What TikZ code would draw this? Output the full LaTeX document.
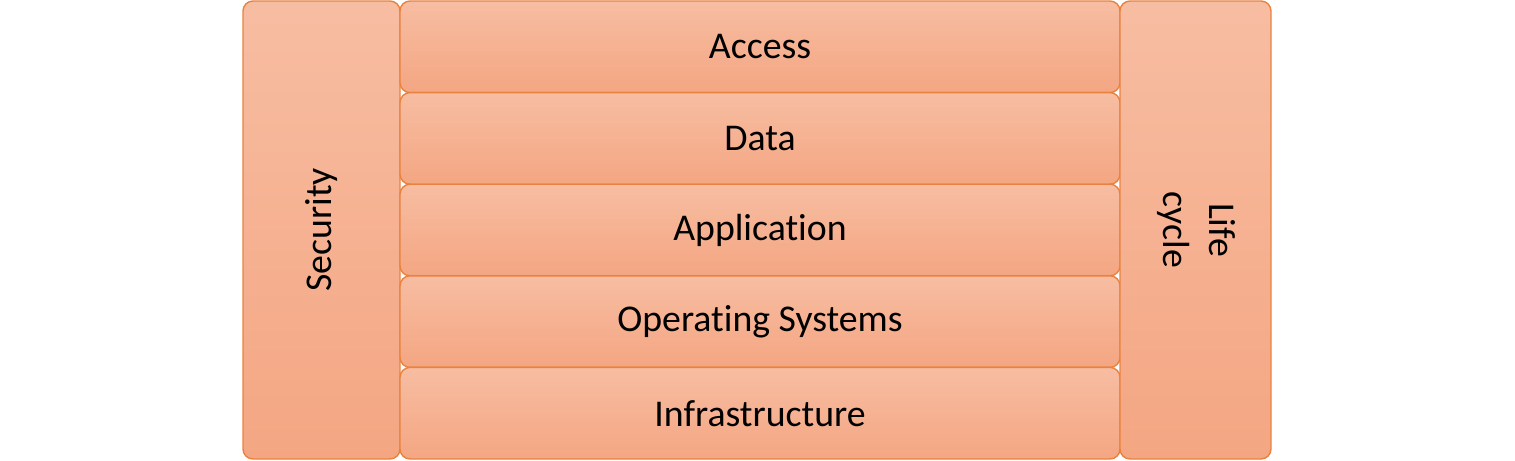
\documentclass[tikz,border=0pt]{standalone}
\usepackage{fontspec}
\setmainfont[Ligatures=NoCommon]{Carlito}
\usepackage{tikz}
\usetikzlibrary{positioning}

\definecolor{boxtop}{HTML}{F7BDA2}
\definecolor{boxbot}{HTML}{F4A682}
\definecolor{boxline}{HTML}{E9823F}

\tikzset{
    block/.style={draw=boxline, line width=0.8pt, rounded corners=0.2cm,
        top color=boxtop, bottom color=boxbot, outer sep=0pt, inner sep=0pt,
        font=\fontsize{21.5}{26}\selectfont, align=center},
    layer/.style={block, minimum width=14.4cm, minimum height=1.832cm},
    pillar/.style={block, minimum height=9.16cm}
}

\begin{document}
\begin{tikzpicture}
    \useasboundingbox (0,0) rectangle (30.3,-9.2);

    \node[pillar, minimum width=3.14cm, anchor=north west] (sec) at (4.86,-0.02)
        {\rotatebox{90}{Security}};

    \node[layer, anchor=north west] (access) at (sec.north east) {Access};
    \node[layer, below=0pt of access] (data) {Data};
    \node[layer, below=0pt of data] (app) {Application};
    \node[layer, below=0pt of app] (os) {Operating Systems};
    \node[layer, below=0pt of os] (infra) {Infrastructure};

    \node[pillar, minimum width=3.02cm, anchor=north west] (life) at (access.north east)
        {\rotatebox{-90}{\begin{tabular}{@{}c@{}}Life\\cycle\end{tabular}}};
\end{tikzpicture}
\end{document}
